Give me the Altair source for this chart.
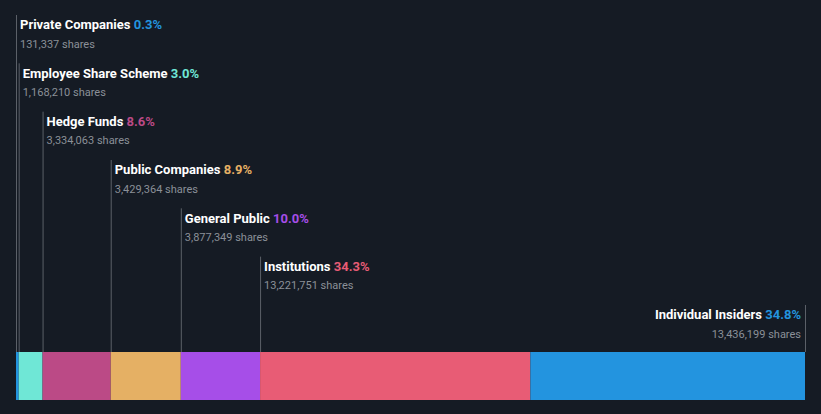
import altair as alt
import pandas as pd
import glob
import struct

categories = ["Private Companies", "Employee Share Scheme", "Hedge Funds",
              "Public Companies", "General Public", "Institutions", "Individual Insiders"]
shares = [131337, 1168210, 3334063, 3429364, 3877349, 13221751, 13436199]
percents = [0.3, 3.0, 8.6, 8.9, 10.0, 34.3, 34.8]
colors = ["#2394df", "#6fe7d6", "#bb4a86", "#e5b064", "#a64ee8", "#e85c75", "#2394df"]

W, H = 821, 414
BAR_L, BAR_R = 16, 805
BG = "#151b24"
LINE = "#5b6068"
GRAY = "#8b9098"
FONT = "Roboto"
LSIZE = 13


def make_measurer():
    """Return a text-width function (px) for Roboto Bold, or None."""
    try:
        from PIL import ImageFont
        cands = [f for f in glob.glob("/usr/share/fonts/**/Roboto*Bold*.ttf", recursive=True)
                 if "Italic" not in f and "Condensed" not in f and "[" not in f]
        if cands:
            fnt = ImageFont.truetype(sorted(cands, key=len)[0], 100)
            return lambda s, size: fnt.getlength(s) * size / 100.0
    except Exception:
        pass
    try:
        cands = [f for f in glob.glob("/usr/share/fonts/**/Roboto*Bold*.ttf", recursive=True)
                 if "Italic" not in f and "Condensed" not in f and "[" not in f
                 and "Semi" not in f and "Extra" not in f]
        if not cands:
            return None
        data = open(sorted(cands, key=len)[0], "rb").read()
        nt = struct.unpack(">H", data[4:6])[0]
        tables = {}
        for i in range(nt):
            tag, _, off, ln = struct.unpack(">4sIII", data[12 + 16 * i:28 + 16 * i])
            tables[tag.decode("latin1")] = off
        upem = struct.unpack(">H", data[tables["head"] + 18:tables["head"] + 20])[0]
        nhm = struct.unpack(">H", data[tables["hhea"] + 34:tables["hhea"] + 36])[0]
        hm = tables["hmtx"]
        adv = [struct.unpack(">H", data[hm + 4 * i:hm + 4 * i + 2])[0] for i in range(nhm)]
        cm = tables["cmap"]
        n = struct.unpack(">H", data[cm + 2:cm + 4])[0]
        sub = None
        for i in range(n):
            pid, eid, off = struct.unpack(">HHI", data[cm + 4 + 8 * i:cm + 12 + 8 * i])
            if struct.unpack(">H", data[cm + off:cm + off + 2])[0] == 4:
                sub = cm + off
                break
        if sub is None:
            return None
        sx2 = struct.unpack(">H", data[sub + 6:sub + 8])[0]
        ns = sx2 // 2
        ends = struct.unpack(">%dH" % ns, data[sub + 14:sub + 14 + sx2])
        so = sub + 16 + sx2
        starts = struct.unpack(">%dH" % ns, data[so:so + sx2])
        do = so + sx2
        deltas = struct.unpack(">%dh" % ns, data[do:do + sx2])
        ro = do + sx2
        ros = struct.unpack(">%dH" % ns, data[ro:ro + sx2])

        def gid(c):
            for i in range(ns):
                if ends[i] >= c:
                    if starts[i] > c:
                        return 0
                    if ros[i] == 0:
                        return (c + deltas[i]) & 0xFFFF
                    a = ro + 2 * i + ros[i] + 2 * (c - starts[i])
                    g = struct.unpack(">H", data[a:a + 2])[0]
                    return (g + deltas[i]) & 0xFFFF if g else 0
            return 0

        def width(s, size):
            return sum(adv[min(gid(ord(ch)), nhm - 1)] for ch in s) * size / upem
        return width
    except Exception:
        return None


measure = make_measurer()

total = sum(shares)
span = BAR_R - BAR_L
k = total / span  # data units per pixel
x_dom = [-BAR_L * k, total + (W - BAR_R) * k]

df = pd.DataFrame({"category": categories, "shares": shares, "pct": percents})
df["end"] = df["shares"].cumsum()
df["start"] = df["end"] - df["shares"]
df["row"] = range(len(df))
df["flip"] = df["row"] == len(df) - 1
df["anchor"] = df["start"].where(~df["flip"], df["end"])
df["pct_s"] = df["pct"].map(lambda p: f"{p:.1f}%")
df["full"] = df["category"] + " " + df["pct_s"]
df["shares_s"] = df["shares"].map(lambda s: f"{s:,} shares")
df["label_y"] = 29.3 + 48.33 * df["row"]
df["shares_y"] = 47.7 + 48.33 * df["row"]
df["top"] = 15 + 48.33 * df["row"]

xs = alt.Scale(domain=x_dom, range=[0, W], nice=False, zero=False)
ys = alt.Scale(domain=[0, H], range=[0, H], nice=False, zero=False)
cs = alt.Scale(domain=categories, range=colors)

base = alt.Chart(df)

rules = base.mark_rule(color=LINE, strokeWidth=1, xOffset=0.5).encode(
    x=alt.X("anchor:Q", scale=xs, axis=None),
    y=alt.Y("top:Q", scale=ys, axis=None),
    y2=alt.value(352),
)

bars = base.mark_rect().encode(
    x=alt.X("start:Q", scale=xs, axis=None),
    x2="end:Q",
    y=alt.value(352),
    y2=alt.value(400),
    color=alt.Color("category:N", scale=cs, legend=None),
)

left = base.transform_filter("!datum.flip")
right = base.transform_filter("datum.flip")

tkw = dict(font=FONT, fontSize=LSIZE, fontWeight="bold", baseline="alphabetic")
X = lambda f: alt.X(f, scale=xs, axis=None)
Y = lambda f: alt.Y(f, scale=ys, axis=None)
C = alt.Color("category:N", scale=cs, legend=None)

if measure is not None:
    df["pct_x"] = [
        (a + (4 + measure(c + " ", LSIZE)) * k) if not f else a
        for a, c, f in zip(df["anchor"], df["category"], df["flip"])
    ]
    df["name_x"] = [
        (a - (4 + measure(" " + p, LSIZE)) * k) if f else a
        for a, p, f in zip(df["anchor"], df["pct_s"], df["flip"])
    ]
    base = alt.Chart(df)
    left = base.transform_filter("!datum.flip")
    right = base.transform_filter("datum.flip")
    label_layers = [
        left.mark_text(align="left", dx=4, color="#ffffff", **tkw).encode(
            x=X("anchor:Q"), y=Y("label_y:Q"), text="category:N"),
        left.mark_text(align="left", **tkw).encode(
            x=X("pct_x:Q"), y=Y("label_y:Q"), text="pct_s:N", color=C),
        right.mark_text(align="right", color="#ffffff", **tkw).encode(
            x=X("name_x:Q"), y=Y("label_y:Q"), text="category:N"),
        right.mark_text(align="right", dx=-4, **tkw).encode(
            x=X("anchor:Q"), y=Y("label_y:Q"), text="pct_s:N", color=C),
    ]
else:
    label_layers = [
        left.mark_text(align="left", dx=4, **tkw).encode(
            x=X("anchor:Q"), y=Y("label_y:Q"), text="full:N", color=C),
        left.mark_text(align="left", dx=4, color="#ffffff", **tkw).encode(
            x=X("anchor:Q"), y=Y("label_y:Q"), text="category:N"),
        right.mark_text(align="right", dx=-4, color="#ffffff", **tkw).encode(
            x=X("anchor:Q"), y=Y("label_y:Q"), text="full:N"),
        right.mark_text(align="right", dx=-4, **tkw).encode(
            x=X("anchor:Q"), y=Y("label_y:Q"), text="pct_s:N", color=C),
    ]

skw = dict(font=FONT, fontSize=11, color=GRAY, baseline="alphabetic")
l_sh = left.mark_text(align="left", dx=4, **skw).encode(
    x=X("anchor:Q"), y=Y("shares_y:Q"), text="shares_s:N")
r_sh = right.mark_text(align="right", dx=-4, **skw).encode(
    x=X("anchor:Q"), y=Y("shares_y:Q"), text="shares_s:N")

chart = alt.layer(rules, bars, *label_layers, l_sh, r_sh).properties(
    width=W, height=H, background=BG, padding=0,
    autosize=alt.AutoSizeParams(type="none"),
).configure_view(stroke=None)

chart.save("out.html", embed_options={"renderer": "svg", "actions": False})
